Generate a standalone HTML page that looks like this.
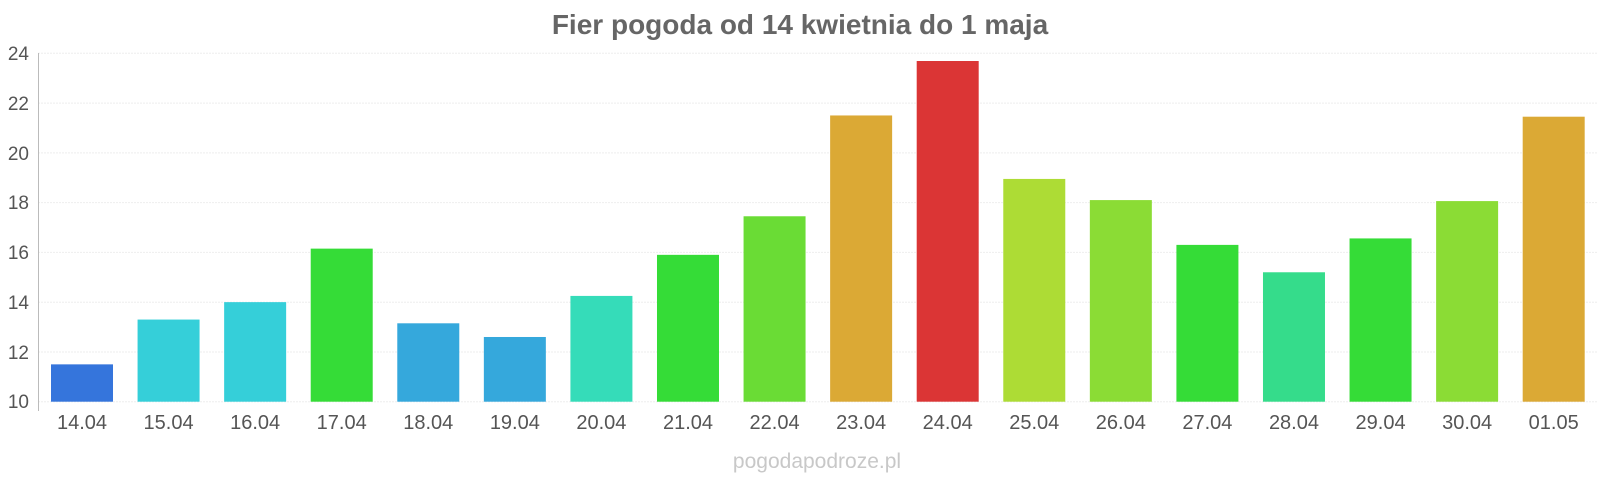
<!DOCTYPE html>
<html><head><meta charset="utf-8"><style>
html,body{margin:0;padding:0;background:#fff;}
svg{display:block;font-family:"Liberation Sans",Arial,sans-serif;}
</style></head><body>
<svg width="1600" height="480" viewBox="0 0 1600 480" xmlns="http://www.w3.org/2000/svg">
<text x="800" y="34" text-anchor="middle" font-size="28" font-weight="bold" fill="#666">Fier pogoda od 14 kwietnia do 1 maja</text>
<g stroke="#eeeeee" stroke-width="1" stroke-dasharray="2,1">
<line x1="38" x2="1597" y1="53.3" y2="53.3"/>
<line x1="38" x2="1597" y1="103.1" y2="103.1"/>
<line x1="38" x2="1597" y1="152.9" y2="152.9"/>
<line x1="38" x2="1597" y1="202.6" y2="202.6"/>
<line x1="38" x2="1597" y1="252.4" y2="252.4"/>
<line x1="38" x2="1597" y1="302.2" y2="302.2"/>
<line x1="38" x2="1597" y1="352" y2="352"/>
<line x1="38" x2="1597" y1="401.7" y2="401.7"/>
</g>
<line x1="38.5" x2="38.5" y1="53" y2="411" stroke="#bbb" stroke-width="1"/>
<g font-size="19" fill="#555" text-anchor="end">
<text x="29" y="60">24</text>
<text x="29" y="110">22</text>
<text x="29" y="160">20</text>
<text x="29" y="209">18</text>
<text x="29" y="259">16</text>
<text x="29" y="309">14</text>
<text x="29" y="359">12</text>
<text x="29" y="408">10</text>
</g>
<g>
<rect x="51" y="364.36" width="62" height="37.34" fill="#3575dc"/>
<rect x="137.57" y="319.56" width="62" height="82.14" fill="#35cfd9"/>
<rect x="224.14" y="302.14" width="62" height="99.56" fill="#35cfd9"/>
<rect x="310.71" y="248.63" width="62" height="153.07" fill="#35dc37"/>
<rect x="397.28" y="323.3" width="62" height="78.4" fill="#35a8dc"/>
<rect x="483.85" y="336.99" width="62" height="64.71" fill="#35a8dc"/>
<rect x="570.42" y="295.92" width="62" height="105.78" fill="#35dcb9"/>
<rect x="656.99" y="254.85" width="62" height="146.85" fill="#35dc37"/>
<rect x="743.56" y="216.27" width="62" height="185.43" fill="#6adc35"/>
<rect x="830.13" y="115.46" width="62" height="286.24" fill="#dba935"/>
<rect x="916.7" y="61" width="62" height="340.7" fill="#db3535"/>
<rect x="1003.27" y="178.93" width="62" height="222.77" fill="#addc35"/>
<rect x="1089.84" y="200.09" width="62" height="201.61" fill="#8bdc35"/>
<rect x="1176.41" y="244.89" width="62" height="156.81" fill="#35dc37"/>
<rect x="1262.98" y="272.27" width="62" height="129.43" fill="#35dc8b"/>
<rect x="1349.55" y="238.42" width="62" height="163.28" fill="#35dc37"/>
<rect x="1436.12" y="201.09" width="62" height="200.61" fill="#8bdc35"/>
<rect x="1522.69" y="116.7" width="62" height="285" fill="#dba935"/>
</g>
<g font-size="20" fill="#555" text-anchor="middle">
<text x="82" y="429">14.04</text>
<text x="168.57" y="429">15.04</text>
<text x="255.14" y="429">16.04</text>
<text x="341.71" y="429">17.04</text>
<text x="428.28" y="429">18.04</text>
<text x="514.85" y="429">19.04</text>
<text x="601.42" y="429">20.04</text>
<text x="687.99" y="429">21.04</text>
<text x="774.56" y="429">22.04</text>
<text x="861.13" y="429">23.04</text>
<text x="947.7" y="429">24.04</text>
<text x="1034.27" y="429">25.04</text>
<text x="1120.84" y="429">26.04</text>
<text x="1207.41" y="429">27.04</text>
<text x="1293.98" y="429">28.04</text>
<text x="1380.55" y="429">29.04</text>
<text x="1467.12" y="429">30.04</text>
<text x="1553.69" y="429">01.05</text>
</g>
<text x="817" y="468" text-anchor="middle" font-size="21" fill="#c8c8c8">pogodapodroze.pl</text>
</svg>
</body></html>
